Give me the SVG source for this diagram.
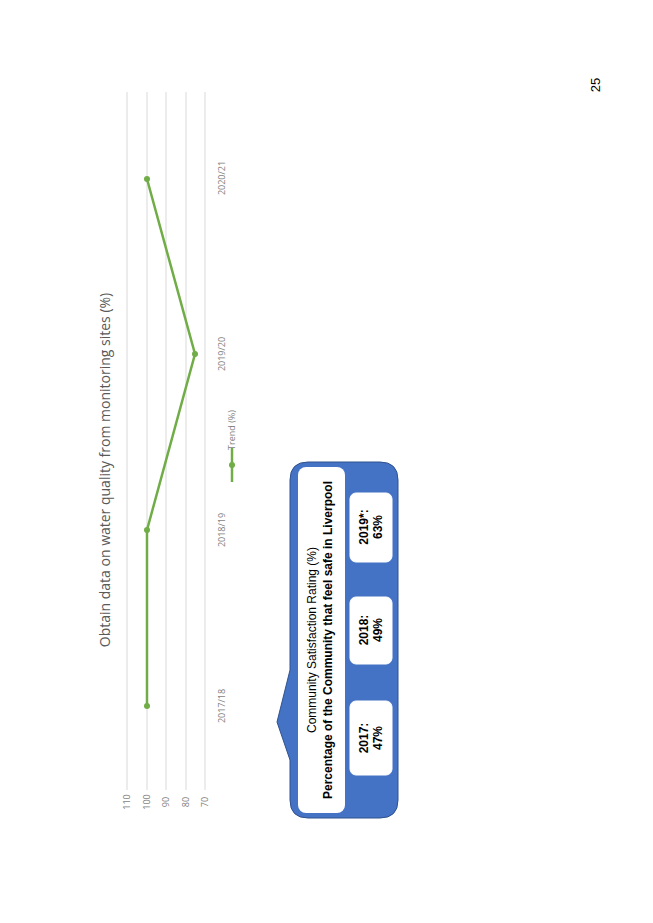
<svg xmlns="http://www.w3.org/2000/svg" width="653" height="923" viewBox="0 0 653 923">
<style>
.grid{stroke:#d9d9d9;stroke-width:1}
.ax{font-family:"Open Sans","Liberation Sans",sans-serif;font-size:9px;fill:#7f7f7f;text-anchor:middle}
.ln{fill:none;stroke:#70ad47;stroke-width:2.5}
.dot{fill:#70ad47}
.bx{fill:#fff;stroke:#fff}
.bt{font-family:"Liberation Sans",sans-serif;font-size:12px;font-weight:bold;fill:#000;text-anchor:middle}
</style>
<rect width="653" height="923" fill="#fff"/>
<g id="chart">
<line class="grid" x1="127" y1="92" x2="127" y2="790"/>
<line class="grid" x1="147" y1="92" x2="147" y2="790"/>
<line class="grid" x1="166" y1="92" x2="166" y2="790"/>
<line class="grid" x1="186" y1="92" x2="186" y2="790"/>
<line class="grid" x1="205" y1="92" x2="205" y2="790"/>
<text class="ax" transform="translate(130 802) rotate(-90)">110</text>
<text class="ax" transform="translate(150 802) rotate(-90)">100</text>
<text class="ax" transform="translate(169 802) rotate(-90)">90</text>
<text class="ax" transform="translate(189 802) rotate(-90)">80</text>
<text class="ax" transform="translate(208 802) rotate(-90)">70</text>
<text class="ax" transform="translate(225 706) rotate(-90)">2017/18</text>
<text class="ax" transform="translate(225 530) rotate(-90)">2018/19</text>
<text class="ax" transform="translate(225 354) rotate(-90)">2019/20</text>
<text class="ax" transform="translate(225 178) rotate(-90)">2020/21</text>
<text transform="translate(110 470) rotate(-90)" font-family="Open Sans, Liberation Sans, sans-serif" font-size="14" fill="#595959" text-anchor="middle">Obtain data on water quality from monitoring sites (%)</text>
<polyline class="ln" points="147,706 147,530 195,354 147,179"/>
<circle class="dot" cx="147" cy="706" r="3"/>
<circle class="dot" cx="147" cy="530" r="3"/>
<circle class="dot" cx="195" cy="354" r="3"/>
<circle class="dot" cx="147" cy="179" r="3"/>
<line x1="232" y1="448" x2="232" y2="482" stroke="#70ad47" stroke-width="2.5"/>
<circle class="dot" cx="232" cy="465" r="3"/>
<text class="ax" transform="translate(235 430) rotate(-90)">Trend (%)</text>
</g>
<g id="callout">
<path d="M290,480 Q290,462 308,462 L380,462 Q398,462 398,480 L398,800 Q398,818 380,818 L308,818 Q290,818 290,800 L290,760 L277,722 L290,670 Z" fill="#4472c4" stroke="#2f528f" stroke-width="1"/>
<rect x="298" y="467" width="47" height="346" rx="8" fill="#fff"/>
<text transform="translate(316 640) rotate(-90)" font-family="Liberation Sans, sans-serif" font-size="12" fill="#000" text-anchor="middle">Community Satisfaction Rating (%)</text>
<text transform="translate(332 640) rotate(-90)" font-family="Liberation Sans, sans-serif" font-size="12" font-weight="bold" fill="#000" text-anchor="middle">Percentage of the Community that feel safe in Liverpool</text>
</g>
<g id="b2017"><rect class="bx" x="350" y="701" width="42" height="74" rx="6"/><text class="bt" transform="translate(368 738) rotate(-90)">2017:</text><text class="bt" transform="translate(382 738) rotate(-90)">47%</text></g>
<g id="b2018"><rect class="bx" x="350" y="597" width="42" height="67" rx="6"/><text class="bt" transform="translate(368 630) rotate(-90)">2018:</text><text class="bt" transform="translate(382 630) rotate(-90)">49%</text></g>
<g id="b2019"><rect class="bx" x="350" y="493" width="42" height="69" rx="6"/><text class="bt" transform="translate(368 527) rotate(-90)">2019*:</text><text class="bt" transform="translate(382 527) rotate(-90)">63%</text></g>
<text transform="translate(600 85) rotate(-90)" font-family="Liberation Sans, sans-serif" font-size="13" fill="#000" text-anchor="middle">25</text>
</svg>
